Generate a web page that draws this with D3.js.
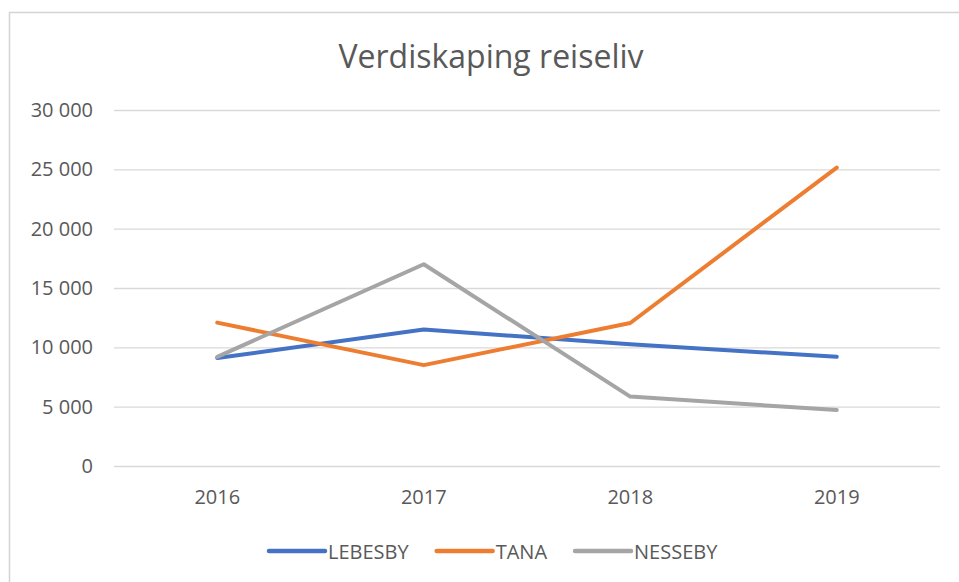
<!DOCTYPE html>
<html>
<head>
<meta charset="utf-8">
<script src="https://cdn.jsdelivr.net/npm/d3@7"></script>
<style>
  html, body { margin: 0; padding: 0; background: #fff; }
  svg { display: block; }
</style>
</head>
<body>
<svg id="chart" width="959" height="582"></svg>
<script>
// Tourism value creation per municipality
const years = ["2016", "2017", "2018", "2019"];
const lebesby = [9100, 11500, 10250, 9200];
const tana = [12080, 8500, 12050, 25150];
const nesseby = [9200, 17000, 5850, 4720];
const yTicks = [0, 5000, 10000, 15000, 20000, 25000, 30000];
const seriesNames = ["LEBESBY", "TANA", "NESSEBY"];
const seriesColors = ["#4472C4", "#ED7D31", "#A5A5A5"];

const series = [
  { name: seriesNames[0], values: lebesby, color: seriesColors[0] },
  { name: seriesNames[1], values: tana, color: seriesColors[1] },
  { name: seriesNames[2], values: nesseby, color: seriesColors[2] }
];

const font = "'Open Sans', 'Noto Sans', sans-serif";
const textColor = "#595959";
const svg = d3.select("#chart");

// chart area frame
svg.append("rect")
  .attr("x", 9.5).attr("y", 12.5)
  .attr("width", 960).attr("height", 580)
  .attr("fill", "#fff")
  .attr("stroke", "#d4d4d4").attr("stroke-width", 1.5);

const plot = { left: 114, right: 940, top: 110, bottom: 466 };

const x = d3.scaleBand().domain(years).range([plot.left, plot.right]);
const y = d3.scaleLinear().domain([0, 30000]).range([plot.bottom, plot.top]);

const fmt = v => d3.format(",")(v).replace(/,/g, " ");

// title
svg.append("text")
  .attr("x", 491).attr("y", 68)
  .attr("text-anchor", "middle")
  .attr("font-family", font).attr("font-size", 32)
  .attr("fill", textColor)
  .text("Verdiskaping reiseliv");

// gridlines + y labels
const yAxis = d3.axisLeft(y).tickValues(yTicks)
  .tickSize(-(plot.right - plot.left)).tickPadding(21).tickFormat(fmt);
const gy = svg.append("g").attr("transform", `translate(${plot.left},0)`).call(yAxis);
gy.select(".domain").remove();
gy.selectAll(".tick line").attr("stroke", "#d9d9d9").attr("stroke-width", 1.3);
gy.selectAll(".tick text")
  .attr("font-family", font).attr("font-size", 20).attr("fill", textColor);

// x labels
const xAxis = d3.axisBottom(x).tickSize(0).tickPadding(24);
const gx = svg.append("g").attr("transform", `translate(0,${plot.bottom})`).call(xAxis);
gx.select(".domain").remove();
gx.selectAll(".tick text")
  .attr("font-family", font).attr("font-size", 20).attr("fill", textColor);

// lines
const line = d3.line()
  .x((d, i) => x(years[i]) + x.bandwidth() / 2)
  .y(d => y(d));

svg.append("g").selectAll("path")
  .data(series)
  .join("path")
  .attr("d", d => line(d.values))
  .attr("fill", "none")
  .attr("stroke", d => d.color)
  .attr("stroke-width", 4)
  .attr("stroke-linejoin", "round")
  .attr("stroke-linecap", "round");

// legend: swatch line followed by label, laid out left to right
const swatchW = 56;
const lg = svg.append("g");
let cursor = 269;
series.forEach(s => {
  lg.append("line")
    .attr("x1", cursor).attr("x2", cursor + swatchW)
    .attr("y1", 551).attr("y2", 551)
    .attr("stroke", s.color).attr("stroke-width", 4.5)
    .attr("stroke-linecap", "round");
  const t = lg.append("text")
    .attr("x", cursor + swatchW + 3).attr("y", 558.5)
    .attr("font-family", font).attr("font-size", 20)
    .attr("fill", textColor)
    .text(s.name);
  cursor += swatchW + 3 + t.node().getComputedTextLength() + 28;
});
</script>
</body>
</html>
